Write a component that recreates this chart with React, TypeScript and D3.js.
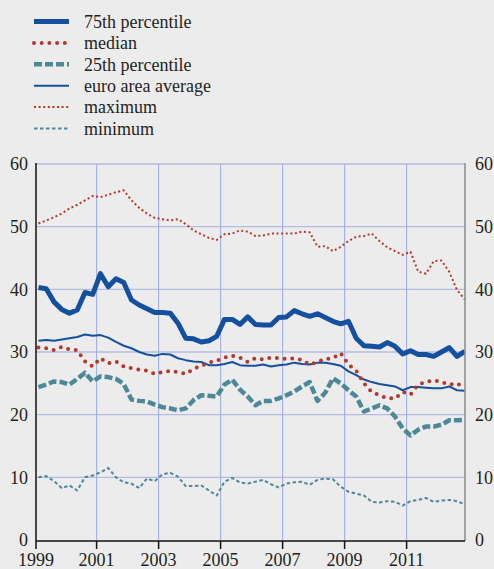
import * as d3 from "d3";

// quarterly observations, 1999 Q1 to 2012 Q4
const quarters = d3.range(56).map((i) => 1999.125 + i * 0.25);

const p75 = [
  40.3, 40.1, 38.0, 36.8, 36.2, 36.7, 39.5, 39.2, 42.5, 40.4, 41.7, 41.1, 38.3, 37.5, 36.9, 36.3,
  36.3, 36.2, 34.6, 32.2, 32.1, 31.6, 31.8, 32.5, 35.2, 35.2, 34.4, 35.6, 34.4, 34.3, 34.3, 35.5,
  35.6, 36.6, 36.1, 35.7, 36.1, 35.5, 34.9, 34.5, 34.9, 32.2, 31.0, 30.9, 30.8, 31.5, 30.9, 29.7,
  30.2, 29.6, 29.6, 29.3, 30.0, 30.7, 29.3, 30.1,
];
const median = [
  30.7, 30.6, 30.3, 30.8, 30.4, 30.3, 28.5, 27.7, 29.0, 28.2, 28.5, 27.7, 27.4, 27.2, 27.0, 26.5,
  26.8, 27.0, 26.8, 26.5, 27.3, 27.8, 28.3, 28.6, 29.1, 29.4, 29.1, 28.4, 29.0, 28.8, 29.1, 29.0,
  28.9, 29.0, 28.7, 28.0, 28.4, 28.9, 29.0, 29.8, 28.0, 27.0, 25.0, 23.6, 23.1, 22.6, 22.6, 23.6,
  23.2, 24.8, 25.2, 25.5, 25.2, 24.8, 25.0, 24.2,
];
const p25 = [
  24.4, 24.8, 25.3, 25.2, 24.8, 25.7, 26.7, 25.3, 26.1, 26.0, 25.7, 24.9, 22.4, 22.2, 22.1, 21.6,
  21.2, 21.0, 20.7, 21.0, 22.3, 23.1, 23.0, 22.9, 24.8, 25.6, 24.0, 22.9, 21.5, 22.2, 22.2, 22.6,
  23.1, 23.7, 24.5, 25.2, 22.2, 23.5, 25.8, 25.0, 23.9, 22.9, 20.5, 21.0, 21.5, 21.0, 19.7, 17.8,
  16.7, 17.6, 18.1, 18.1, 18.4, 19.1, 19.1, 19.2,
];
const euroArea = [
  31.8, 31.9, 31.8, 32.0, 32.2, 32.4, 32.8, 32.6, 32.7, 32.3, 31.6, 31.0, 30.6, 30.0, 29.6, 29.4,
  29.7, 29.6, 29.0, 28.7, 28.5, 28.4, 27.9, 27.9, 28.1, 28.4, 27.9, 27.8, 27.8, 28.0, 27.7, 27.9,
  28.0, 28.3, 28.1, 28.0, 28.3, 28.3, 28.1, 27.8, 26.9, 26.3, 25.6, 25.2, 24.9, 24.7, 24.5, 23.9,
  24.4, 24.4, 24.3, 24.2, 24.2, 24.5, 23.9, 23.8,
];
const maximum = [
  50.5, 51.0, 51.5, 52.1, 52.9, 53.5, 54.2, 54.9, 54.7, 55.1, 55.5, 55.8, 54.2, 53.0, 52.1, 51.4,
  51.2, 51.0, 51.2, 50.4, 49.4, 48.8, 48.2, 47.9, 48.8, 48.9, 49.4, 49.2, 48.5, 48.6, 48.9, 48.9,
  48.9, 48.9, 49.2, 49.1, 46.8, 46.9, 46.1, 46.8, 47.7, 48.4, 48.5, 48.9, 47.7, 46.7, 46.1, 45.5,
  46.0, 42.8, 42.5, 44.5, 44.6, 42.8, 39.9, 38.4,
];
const minimum = [
  10.0, 10.2, 9.4, 8.3, 8.7, 7.9, 10.0, 10.3, 10.8, 11.5, 10.0, 9.2, 9.0, 8.3, 9.8, 9.4,
  10.5, 10.7, 10.1, 8.6, 8.6, 8.7, 7.9, 7.1, 9.3, 9.9, 9.2, 9.0, 9.3, 9.6, 8.9, 8.4,
  9.0, 9.2, 9.3, 8.8, 9.6, 9.8, 9.7, 8.5, 7.7, 7.4, 7.1, 6.1, 6.0, 6.2, 6.1, 5.5,
  6.2, 6.4, 6.7, 6.1, 6.3, 6.4, 6.2, 5.7,
];

const yTicks = [0, 10, 20, 30, 40, 50, 60];
const yearLabels = [1999, 2001, 2003, 2005, 2007, 2009, 2011];

const BLUE = "#15509f";
const RED = "#b3392d";
const TEAL = "#4c8898";

const series = [
  { name: "75th percentile", values: p75, color: BLUE, width: 5, dash: null, cap: "butt" },
  { name: "median", values: median, color: RED, width: 4, dash: "0 7.7", cap: "round" },
  { name: "25th percentile", values: p25, color: TEAL, width: 4.5, dash: "8 3", cap: "butt" },
  { name: "euro area average", values: euroArea, color: BLUE, width: 2, dash: null, cap: "butt" },
  { name: "maximum", values: maximum, color: RED, width: 2, dash: "2 2.6", cap: "butt" },
  { name: "minimum", values: minimum, color: TEAL, width: 2, dash: "3.5 2.5", cap: "butt" },
];

const drawOrder = ["minimum", "maximum", "25th percentile", "euro area average", "median", "75th percentile"];

export default function App() {
  const width = 494;
  const height = 569;
  const left = 36;
  const right = 465;
  const top = 164;
  const bottom = 540;

  const x = d3.scaleLinear().domain([1999.045, 2012.884]).range([left, right]);
  const y = d3.scaleLinear().domain([0, 60]).range([bottom, top]);

  const font = "'Liberation Serif', 'Times New Roman', serif";

  const line = (vals: number[]) =>
    d3
      .line<number>()
      .x((_, i) => x(quarters[i]))
      .y((d) => y(d))(vals) as string;

  return (
    <svg
      width={width}
      height={height}
      style={{ position: "absolute", left: 0, top: 0, display: "block" }}
      fontFamily={font}
    >
      <defs>
        <clipPath id="plot">
          <rect x={left} y={top - 10} width={right - left} height={bottom - top + 10} />
        </clipPath>
      </defs>
      <rect width={width} height={height} fill="#ececec" />

      {/* legend */}
      {series.map((s, i) => {
        const cy = 21.5 + i * 21.4;
        return (
          <g key={s.name}>
            <line
              x1={34}
              x2={69}
              y1={cy}
              y2={cy}
              stroke={s.color}
              strokeWidth={s.width}
              strokeDasharray={s.dash ?? undefined}
              strokeLinecap={s.cap as any}
            />
            <text x={84} y={cy} dy="0.35em" fontSize={18} fill="#231f20">
              {s.name}
            </text>
          </g>
        );
      })}

      {/* grid */}
      {yTicks
        .filter((t) => t > 0)
        .map((t) => (
          <line key={t} x1={left} x2={right} y1={y(t)} y2={y(t)} stroke="#b3bce4" strokeWidth={1.4} />
        ))}
      {yearLabels
        .filter((yr) => yr > 1999)
        .map((yr) => (
          <line key={yr} x1={x(yr)} x2={x(yr)} y1={top} y2={bottom} stroke="#a3aee2" strokeWidth={1.1} />
        ))}

      {/* series */}
      <g clipPath="url(#plot)" fill="none">
        {drawOrder.map((name) => {
          const s = series.find((d) => d.name === name)!;
          return (
            <path
              key={name}
              d={line(s.values)}
              stroke={s.color}
              strokeWidth={s.width}
              strokeDasharray={s.dash ?? undefined}
              strokeLinecap={s.cap as any}
              strokeLinejoin="round"
            />
          );
        })}
      </g>

      {/* axes */}
      <line x1={left} x2={left} y1={top - 1} y2={bottom + 1} stroke="#111" strokeWidth={1.5} />
      <line x1={right} x2={right} y1={top - 1} y2={bottom + 1} stroke="#8a8a8a" strokeWidth={1.5} />
      <line x1={left} x2={right} y1={bottom + 1} y2={bottom + 1} stroke="#111" strokeWidth={1.5} />
      {yearLabels.map((yr) => {
        const px = Math.max(x(yr), left);
        return (
          <g key={yr}>
            <line x1={px} x2={px} y1={bottom + 1} y2={bottom + 9} stroke="#111" strokeWidth={1.5} />
            <text x={px} y={566} textAnchor="middle" fontSize={18} fill="#231f20">
              {yr}
            </text>
          </g>
        );
      })}
      {yTicks.map((t) => (
        <g key={t}>
          <text x={28} y={y(t)} dy="0.35em" textAnchor="end" fontSize={18} fill="#231f20">
            {t}
          </text>
          <text x={475} y={y(t)} dy="0.35em" textAnchor="start" fontSize={18} fill="#231f20">
            {t}
          </text>
        </g>
      ))}
    </svg>
  );
}
